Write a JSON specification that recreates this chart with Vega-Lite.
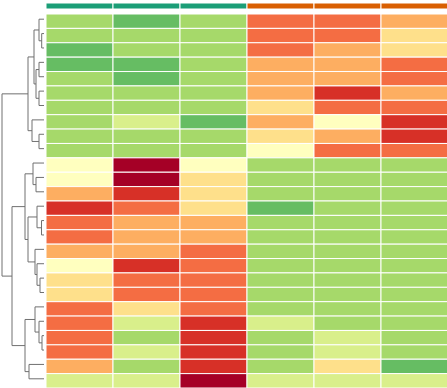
{
  "$schema": "https://vega.github.io/schema/vega-lite/v6.json",
  "padding": {"top": 2, "left": 0, "right": 0, "bottom": 0},
  "config": {"view": {"stroke": null}},
  "datasets": {
    "tree": [
      {"h":0.23,"ya":1.5,"ha":0,"yb":2.5,"hb":0},
      {"h":0.5,"ya":0.5,"ha":0,"yb":2.0,"hb":0.23},
      {"h":0.5,"ya":3.5,"ha":0,"yb":4.5,"hb":0},
      {"h":0.5,"ya":5.5,"ha":0,"yb":6.5,"hb":0},
      {"h":0.8,"ya":4.0,"ha":0.5,"yb":6.0,"hb":0.5},
      {"h":1.0,"ya":1.25,"ha":0.5,"yb":5.0,"hb":0.8},
      {"h":0.5,"ya":8.5,"ha":0,"yb":9.5,"hb":0},
      {"h":1.2,"ya":7.5,"ha":0,"yb":9.0,"hb":0.5},
      {"h":1.6,"ya":3.125,"ha":1.0,"yb":8.25,"hb":1.2},
      {"h":0.8,"ya":11.5,"ha":0,"yb":12.5,"hb":0},
      {"h":1.1,"ya":10.5,"ha":0,"yb":12.0,"hb":0.8},
      {"h":0.25,"ya":14.5,"ha":0,"yb":15.5,"hb":0},
      {"h":0.7,"ya":13.5,"ha":0,"yb":15.0,"hb":0.25},
      {"h":0.4,"ya":18.5,"ha":0,"yb":19.5,"hb":0},
      {"h":0.7,"ya":17.5,"ha":0,"yb":19.0,"hb":0.4},
      {"h":0.9,"ya":16.5,"ha":0,"yb":18.25,"hb":0.7},
      {"h":1.6,"ya":14.25,"ha":0.7,"yb":17.375,"hb":0.9},
      {"h":1.9,"ya":11.25,"ha":1.1,"yb":15.8125,"hb":1.6},
      {"h":0.2,"ya":22.5,"ha":0,"yb":23.5,"hb":0},
      {"h":0.5,"ya":21.5,"ha":0,"yb":23.0,"hb":0.2},
      {"h":0.9,"ya":20.5,"ha":0,"yb":22.25,"hb":0.5},
      {"h":1.5,"ya":24.5,"ha":0,"yb":25.5,"hb":0},
      {"h":1.9,"ya":21.375,"ha":0.9,"yb":25.0,"hb":1.5},
      {"h":3.2,"ya":13.53,"ha":1.9,"yb":23.19,"hb":1.9},
      {"h":4.2,"ya":5.69,"ha":1.6,"yb":18.36,"hb":3.2}
    ],
    "groups": [
      {"s":"S1","g":"A"},{"s":"S2","g":"A"},{"s":"S3","g":"A"},
      {"s":"S4","g":"B"},{"s":"S5","g":"B"},{"s":"S6","g":"B"}
    ],
    "cells": [
      {"r":1,"s":"S1","v":2},{"r":1,"s":"S2","v":1},{"r":1,"s":"S3","v":2},{"r":1,"s":"S4","v":7},{"r":1,"s":"S5","v":7},{"r":1,"s":"S6","v":6},
      {"r":2,"s":"S1","v":2},{"r":2,"s":"S2","v":2},{"r":2,"s":"S3","v":2},{"r":2,"s":"S4","v":7},{"r":2,"s":"S5","v":7},{"r":2,"s":"S6","v":5},
      {"r":3,"s":"S1","v":1},{"r":3,"s":"S2","v":2},{"r":3,"s":"S3","v":2},{"r":3,"s":"S4","v":7},{"r":3,"s":"S5","v":6},{"r":3,"s":"S6","v":5},
      {"r":4,"s":"S1","v":1},{"r":4,"s":"S2","v":1},{"r":4,"s":"S3","v":2},{"r":4,"s":"S4","v":6},{"r":4,"s":"S5","v":6},{"r":4,"s":"S6","v":7},
      {"r":5,"s":"S1","v":2},{"r":5,"s":"S2","v":1},{"r":5,"s":"S3","v":2},{"r":5,"s":"S4","v":6},{"r":5,"s":"S5","v":6},{"r":5,"s":"S6","v":7},
      {"r":6,"s":"S1","v":2},{"r":6,"s":"S2","v":2},{"r":6,"s":"S3","v":2},{"r":6,"s":"S4","v":6},{"r":6,"s":"S5","v":8},{"r":6,"s":"S6","v":6},
      {"r":7,"s":"S1","v":2},{"r":7,"s":"S2","v":2},{"r":7,"s":"S3","v":2},{"r":7,"s":"S4","v":5},{"r":7,"s":"S5","v":7},{"r":7,"s":"S6","v":7},
      {"r":8,"s":"S1","v":2},{"r":8,"s":"S2","v":3},{"r":8,"s":"S3","v":1},{"r":8,"s":"S4","v":6},{"r":8,"s":"S5","v":4},{"r":8,"s":"S6","v":8},
      {"r":9,"s":"S1","v":2},{"r":9,"s":"S2","v":2},{"r":9,"s":"S3","v":2},{"r":9,"s":"S4","v":5},{"r":9,"s":"S5","v":6},{"r":9,"s":"S6","v":8},
      {"r":10,"s":"S1","v":2},{"r":10,"s":"S2","v":2},{"r":10,"s":"S3","v":2},{"r":10,"s":"S4","v":4},{"r":10,"s":"S5","v":7},{"r":10,"s":"S6","v":7},
      {"r":11,"s":"S1","v":4},{"r":11,"s":"S2","v":9},{"r":11,"s":"S3","v":4},{"r":11,"s":"S4","v":2},{"r":11,"s":"S5","v":2},{"r":11,"s":"S6","v":2},
      {"r":12,"s":"S1","v":4},{"r":12,"s":"S2","v":9},{"r":12,"s":"S3","v":5},{"r":12,"s":"S4","v":2},{"r":12,"s":"S5","v":2},{"r":12,"s":"S6","v":2},
      {"r":13,"s":"S1","v":6},{"r":13,"s":"S2","v":8},{"r":13,"s":"S3","v":5},{"r":13,"s":"S4","v":2},{"r":13,"s":"S5","v":2},{"r":13,"s":"S6","v":2},
      {"r":14,"s":"S1","v":8},{"r":14,"s":"S2","v":7},{"r":14,"s":"S3","v":5},{"r":14,"s":"S4","v":1},{"r":14,"s":"S5","v":2},{"r":14,"s":"S6","v":2},
      {"r":15,"s":"S1","v":7},{"r":15,"s":"S2","v":6},{"r":15,"s":"S3","v":6},{"r":15,"s":"S4","v":2},{"r":15,"s":"S5","v":2},{"r":15,"s":"S6","v":2},
      {"r":16,"s":"S1","v":7},{"r":16,"s":"S2","v":6},{"r":16,"s":"S3","v":6},{"r":16,"s":"S4","v":2},{"r":16,"s":"S5","v":2},{"r":16,"s":"S6","v":2},
      {"r":17,"s":"S1","v":6},{"r":17,"s":"S2","v":6},{"r":17,"s":"S3","v":7},{"r":17,"s":"S4","v":2},{"r":17,"s":"S5","v":2},{"r":17,"s":"S6","v":2},
      {"r":18,"s":"S1","v":4},{"r":18,"s":"S2","v":8},{"r":18,"s":"S3","v":7},{"r":18,"s":"S4","v":2},{"r":18,"s":"S5","v":2},{"r":18,"s":"S6","v":2},
      {"r":19,"s":"S1","v":5},{"r":19,"s":"S2","v":7},{"r":19,"s":"S3","v":7},{"r":19,"s":"S4","v":2},{"r":19,"s":"S5","v":2},{"r":19,"s":"S6","v":2},
      {"r":20,"s":"S1","v":5},{"r":20,"s":"S2","v":7},{"r":20,"s":"S3","v":7},{"r":20,"s":"S4","v":2},{"r":20,"s":"S5","v":2},{"r":20,"s":"S6","v":2},
      {"r":21,"s":"S1","v":7},{"r":21,"s":"S2","v":5},{"r":21,"s":"S3","v":7},{"r":21,"s":"S4","v":2},{"r":21,"s":"S5","v":2},{"r":21,"s":"S6","v":2},
      {"r":22,"s":"S1","v":7},{"r":22,"s":"S2","v":3},{"r":22,"s":"S3","v":8},{"r":22,"s":"S4","v":3},{"r":22,"s":"S5","v":2},{"r":22,"s":"S6","v":2},
      {"r":23,"s":"S1","v":7},{"r":23,"s":"S2","v":2},{"r":23,"s":"S3","v":8},{"r":23,"s":"S4","v":2},{"r":23,"s":"S5","v":3},{"r":23,"s":"S6","v":2},
      {"r":24,"s":"S1","v":7},{"r":24,"s":"S2","v":3},{"r":24,"s":"S3","v":8},{"r":24,"s":"S4","v":2},{"r":24,"s":"S5","v":3},{"r":24,"s":"S6","v":2},
      {"r":25,"s":"S1","v":6},{"r":25,"s":"S2","v":2},{"r":25,"s":"S3","v":8},{"r":25,"s":"S4","v":2},{"r":25,"s":"S5","v":5},{"r":25,"s":"S6","v":1},
      {"r":26,"s":"S1","v":3},{"r":26,"s":"S2","v":3},{"r":26,"s":"S3","v":9},{"r":26,"s":"S4","v":3},{"r":26,"s":"S5","v":3},{"r":26,"s":"S6","v":3}
    ]
  },
  "spacing": 0,
  "resolve": {"scale": {"color": "independent", "x": "independent", "y": "independent"}},
  "hconcat": [
    {
      "width": 44,
      "height": 383,
      "data": {"name": "tree"},
      "layer": [
        {
          "mark": {"type": "rule", "color": "#707070", "strokeWidth": 1},
          "encoding": {
            "x": {"field": "h", "type": "quantitative", "axis": null, "scale": {"domain": [0, 4.4], "reverse": true, "nice": false, "zero": false}},
            "y": {"field": "ya", "type": "quantitative", "axis": null, "scale": {"domain": [-0.6257, 26], "reverse": true, "nice": false, "zero": false}},
            "y2": {"field": "yb"}
          }
        },
        {
          "mark": {"type": "rule", "color": "#707070", "strokeWidth": 1},
          "encoding": {
            "x": {"field": "h", "type": "quantitative", "axis": null},
            "x2": {"field": "ha"},
            "y": {"field": "ya", "type": "quantitative", "axis": null}
          }
        },
        {
          "mark": {"type": "rule", "color": "#707070", "strokeWidth": 1},
          "encoding": {
            "x": {"field": "h", "type": "quantitative", "axis": null},
            "x2": {"field": "hb"},
            "y": {"field": "yb", "type": "quantitative", "axis": null}
          }
        }
      ]
    },
    {
      "spacing": 3,
      "resolve": {"scale": {"color": "independent", "y": "independent"}},
      "vconcat": [
        {
          "width": 402,
          "height": 6,
          "data": {"name": "groups"},
          "mark": {"type": "rect", "stroke": "white", "strokeWidth": 1},
          "encoding": {
            "x": {"field": "s", "type": "ordinal", "axis": null, "scale": {"paddingInner": 0, "paddingOuter": 0}},
            "color": {"field": "g", "type": "nominal", "legend": null, "scale": {"domain": ["A", "B"], "range": ["#1b9e77", "#d95f02"]}}
          }
        },
        {
          "width": 402,
          "height": 374,
          "data": {"name": "cells"},
          "mark": {"type": "rect", "stroke": "white", "strokeWidth": 1, "opacity": 1},
          "encoding": {
            "x": {"field": "s", "type": "ordinal", "axis": null, "scale": {"paddingInner": 0, "paddingOuter": 0}},
            "y": {"field": "r", "type": "ordinal", "axis": null, "scale": {"paddingInner": 0, "paddingOuter": 0}},
            "color": {"field": "v", "type": "ordinal", "legend": null, "scale": {"domain": [1, 2, 3, 4, 5, 6, 7, 8, 9], "range": ["#66bd63", "#a6d96a", "#d9ef8b", "#ffffbf", "#fee08b", "#fdae61", "#f46d43", "#d73027", "#a50026"]}}
          }
        }
      ]
    }
  ]
}
